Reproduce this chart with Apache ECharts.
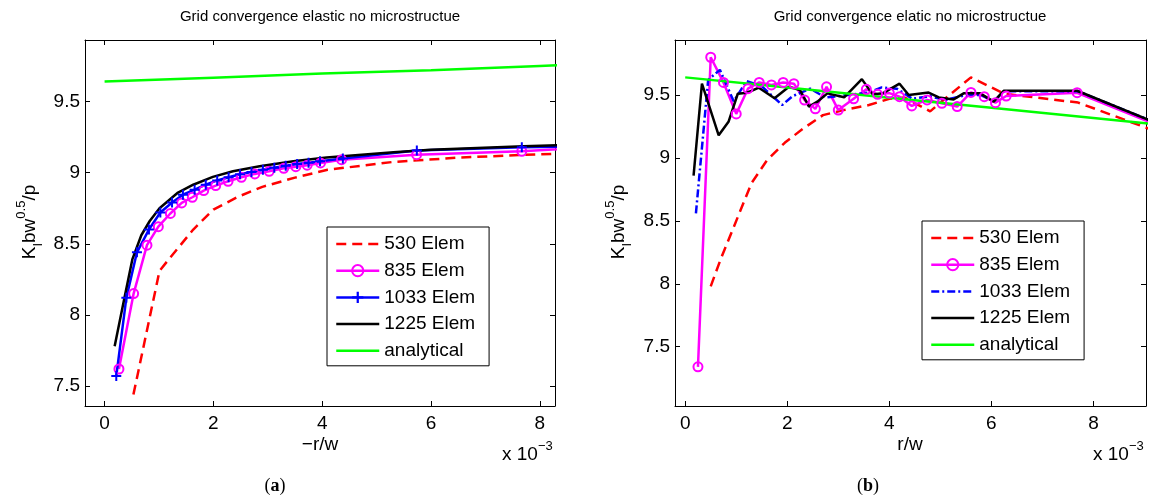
<!DOCTYPE html>
<html>
<head>
<meta charset="utf-8">
<script src="https://cdn.jsdelivr.net/npm/echarts@6/dist/echarts.min.js"></script>
<style>
  html, body { margin: 0; padding: 0; background: #fff; }
  #wrap { position: relative; width: 1153px; height: 499px; }
  .panel { position: absolute; left: 0; top: 0; width: 1153px; height: 499px; }
</style>
</head>
<body>
<div id="wrap">
  <div id="pa" class="panel"></div>
  <div id="pb" class="panel"></div>
</div>
<script>
// ---- shared labels / ticks ----
const seriesNames = ['530 Elem', '835 Elem', '1033 Elem', '1225 Elem', 'analytical'];
const xTicks = [0, 2, 4, 6, 8];
const yTicks = [7.5, 8, 8.5, 9, 9.5];
const titleA = 'Grid convergence elastic no microstructue';
const titleB = 'Grid convergence elatic no microstructue';

// ---- panel (a): K_I b w^0.5 / p against -r/w (x 10^-3) ----
const a530 = [[0.53,7.44],[1.01,8.31],[1.2,8.40],[1.63,8.60],[2.0,8.74],[2.45,8.83],[2.9,8.90],[3.5,8.965],[4.1,9.02],[5.3,9.075],[6.5,9.105],[7.7,9.125],[9.6,9.15]];
const a835 = [[0.264,7.62],[0.534,8.15],[0.779,8.49],[0.988,8.62],[1.209,8.713],[1.417,8.787],[1.613,8.827],[1.822,8.874],[2.043,8.909],[2.27,8.939],[2.515,8.967],[2.761,8.991],[3.025,9.009],[3.294,9.03],[3.515,9.042],[3.724,9.052],[3.969,9.068],[4.356,9.091],[5.736,9.126],[7.669,9.15],[9.6,9.19]];
const a1033 = [[0.215,7.57],[0.40,8.12],[0.595,8.44],[0.815,8.60],[1.025,8.72],[1.24,8.79],[1.44,8.845],[1.655,8.88],[1.86,8.915],[2.07,8.945],[2.28,8.968],[2.49,8.988],[2.70,9.005],[2.91,9.02],[3.12,9.035],[3.33,9.048],[3.54,9.06],[3.75,9.07],[3.96,9.08],[4.38,9.10],[5.74,9.155],[7.67,9.178],[9.6,9.19]];
const a1225 = [[0.185,7.78],[0.37,8.13],[0.51,8.39],[0.675,8.56],[0.83,8.66],[1.01,8.75],[1.35,8.86],[1.63,8.915],[1.99,8.97],[2.36,9.01],[2.85,9.045],[3.47,9.08],[4.08,9.107],[5.31,9.143],[6.0,9.16],[7.7,9.185],[9.6,9.21]];
const aExact = [[0,9.64],[2,9.667],[4,9.696],[6,9.72],[8,9.75],[9.6,9.77]];

// ---- panel (b): K_I b w^0.5 / p against r/w (x 10^-3) ----
const b530 = [[0.5,7.98],[0.7,8.2],[0.95,8.45],[1.3,8.8],[1.6,8.98],[1.95,9.12],[2.3,9.23],[2.7,9.34],[3.1,9.38],[3.6,9.42],[4.0,9.47],[4.3,9.48],[4.8,9.37],[5.15,9.49],[5.6,9.64],[6.25,9.51],[7.7,9.44],[9.1,9.23]];
const b835 = [[0.25,7.34],[0.5,9.8],[0.75,9.6],[1.0,9.35],[1.23,9.55],[1.45,9.6],[1.69,9.58],[1.92,9.6],[2.13,9.59],[2.34,9.46],[2.55,9.39],[2.77,9.565],[3.0,9.38],[3.3,9.47],[3.55,9.545],[3.77,9.505],[4.0,9.515],[4.2,9.487],[4.44,9.413],[4.74,9.461],[5.03,9.434],[5.33,9.408],[5.6,9.52],[5.86,9.487],[6.08,9.439],[6.29,9.492],[7.68,9.518],[9.1,9.285]];
const b1033 = [[0.21,8.56],[0.45,9.62],[0.68,9.7],[0.95,9.45],[1.2,9.61],[1.5,9.57],[1.9,9.42],[2.1,9.49],[2.45,9.55],[2.75,9.48],[3.2,9.5],[3.6,9.52],[3.85,9.56],[4.15,9.55],[4.45,9.47],[4.8,9.49],[5.1,9.46],[5.5,9.5],[5.8,9.5],[6.05,9.45],[6.25,9.53],[7.7,9.53],[9.1,9.30]];
const b1225 = [[0.164,8.86],[0.328,9.59],[0.656,9.18],[0.852,9.29],[1.03,9.51],[1.213,9.518],[1.443,9.558],[1.751,9.474],[2.033,9.566],[2.25,9.539],[2.426,9.408],[2.59,9.447],[2.787,9.513],[3.115,9.482],[3.462,9.626],[3.672,9.505],[3.869,9.513],[4.2,9.59],[4.38,9.5],[4.54,9.508],[4.77,9.519],[4.97,9.481],[5.26,9.465],[5.457,9.513],[5.78,9.513],[6.046,9.447],[6.24,9.534],[7.68,9.534],[9.1,9.30]];
const bExact = [[0,9.64],[2,9.56],[4,9.478],[6,9.398],[8,9.318],[9.1,9.273]];

const FONT = '"Liberation Sans", Arial, Helvetica, sans-serif';
const SERIF = '"Liberation Serif", "Times New Roman", serif';
const PLUS = 'path://M4,0 h2 v4 h4 v2 h-4 v4 h-2 v-4 h-4 v-2 h4 z';
const LW = 2.5;

function lineSeries(name, data, color, extra) {
  return Object.assign({
    name: name, type: 'line', data: data,
    symbol: 'none', clip: true, animation: false, silent: true,
    lineStyle: { color: color, width: LW },
    itemStyle: { color: color }
  }, extra || {});
}

function axisPair(kind, min, max, ticks) {
  const common = {
    type: 'value', min: min, max: max, scale: true,
    axisLine: { show: true, onZero: false, lineStyle: { color: '#000', width: 1 } },
    axisTick: { show: true, inside: true, length: 5, customValues: ticks, lineStyle: { color: '#000', width: 1 } },
    splitLine: { show: false }
  };
  const main = Object.assign({}, common, {
    position: kind === 'x' ? 'bottom' : 'left',
    axisLabel: { customValues: ticks, color: '#000', fontSize: 19, fontFamily: FONT, margin: kind === 'x' ? 8 : 5 }
  });
  const mirror = Object.assign({}, common, {
    position: kind === 'x' ? 'top' : 'right',
    axisLabel: { show: false }
  });
  return [main, mirror];
}

function textEl(x, y, text, size) {
  return {
    type: 'text', x: x, y: y, silent: true,
    style: {
      text: text, fill: '#000', fontSize: size, fontFamily: FONT,
      align: 'center', verticalAlign: 'middle'
    }
  };
}

function yNameEl(x, y) {
  return {
    type: 'text', x: x, y: y, rotation: Math.PI / 2, silent: true,
    style: {
      text: '{m|K}{sub|I}{m|bw}{sup|0.5}{m|/p}',
      align: 'center', verticalAlign: 'middle', fill: '#000',
      rich: {
        m: { fontSize: 19, fontFamily: FONT, lineHeight: 30, fill: '#000' },
        sub: { fontSize: 13, fontFamily: FONT, lineHeight: 15, verticalAlign: 'bottom', fill: '#000' },
        sup: { fontSize: 13, fontFamily: FONT, lineHeight: 15, verticalAlign: 'top', fill: '#000' }
      }
    }
  };
}

function scaleEl(x, y) {
  return {
    type: 'text', x: x, y: y, silent: true,
    style: {
      text: '{m|x 10}{sup|\u22123}', align: 'left', verticalAlign: 'middle', fill: '#000',
      rich: {
        m: { fontSize: 19, fontFamily: FONT, lineHeight: 30, fill: '#000' },
        sup: { fontSize: 13, fontFamily: FONT, lineHeight: 15, verticalAlign: 'top', fill: '#000' }
      }
    }
  };
}

function captionEl(x, y, letter) {
  return {
    type: 'text', x: x, y: y, silent: true,
    style: {
      text: '{p|(}{b|' + letter + '}{p|)}', align: 'center', verticalAlign: 'middle', fill: '#000',
      rich: {
        p: { fontSize: 18, fontFamily: SERIF, fill: '#000' },
        b: { fontSize: 18, fontFamily: SERIF, fontWeight: 'bold', fill: '#000' }
      }
    }
  };
}

function legendOf(left, top, items) {
  return {
    orient: 'vertical', left: left, top: top,
    padding: [7, 14, 5, 8], itemWidth: 43, itemHeight: 14, itemGap: 6.7,
    borderColor: '#000', borderWidth: 1, borderRadius: 0, backgroundColor: '#fff',
    selectedMode: false,
    lineStyle: { width: LW },
    textStyle: { fontSize: 19, fontFamily: FONT, color: '#000', lineHeight: 20 },
    data: items
  };
}

// ---------- panel (a) ----------
const gridA = { left: 85, top: 40, width: 470, height: 366 };
const [xa, xaTop] = axisPair('x', -0.36, 8.28, xTicks);
const [ya, yaRight] = axisPair('y', 7.36, 9.932, yTicks);

const optionA = {
  animation: false,
  grid: gridA,
  xAxis: [xa, xaTop],
  yAxis: [ya, yaRight],
  legend: legendOf(327, 227, [
    { name: seriesNames[0], itemStyle: { opacity: 0 } },
    { name: seriesNames[1] },
    { name: seriesNames[2] },
    { name: seriesNames[3], itemStyle: { opacity: 0 } },
    { name: seriesNames[4], itemStyle: { opacity: 0 } }
  ]),
  series: [
    lineSeries(seriesNames[0], a530, '#ff0000', { lineStyle: { color: '#ff0000', width: LW, type: [10, 6] } }),
    lineSeries(seriesNames[1], a835, '#ff00ff', {
      symbol: 'circle', symbolSize: 9, showSymbol: true,
      itemStyle: { color: 'rgba(255,0,255,0)', borderColor: '#ff00ff', borderWidth: 2 }
    }),
    lineSeries(seriesNames[2], a1033, '#0000ff', { symbol: PLUS, symbolSize: 10, showSymbol: true }),
    lineSeries(seriesNames[3], a1225, '#000000'),
    lineSeries(seriesNames[4], aExact, '#00ff00')
  ],
  graphic: { elements: [
    textEl(320, 17, titleA, 15),
    yNameEl(30, 222),
    textEl(320, 445, '\u2212r/w', 19),
    scaleEl(502, 455),
    captionEl(275, 486, 'a')
  ] }
};

// ---------- panel (b) ----------
const gridB = { left: 675, top: 40, width: 471, height: 366 };
const [xb, xbTop] = axisPair('x', -0.2, 9.03, xTicks);
const [yb, ybRight] = axisPair('y', 7.029, 9.937, yTicks);

const optionB = {
  animation: false,
  grid: gridB,
  xAxis: [xb, xbTop],
  yAxis: [yb, ybRight],
  legend: legendOf(922, 221, [
    { name: seriesNames[0], itemStyle: { opacity: 0 } },
    { name: seriesNames[1] },
    { name: seriesNames[2], itemStyle: { opacity: 0 } },
    { name: seriesNames[3], itemStyle: { opacity: 0 } },
    { name: seriesNames[4], itemStyle: { opacity: 0 } }
  ]),
  series: [
    lineSeries(seriesNames[0], b530, '#ff0000', { lineStyle: { color: '#ff0000', width: LW, type: [10, 6] } }),
    lineSeries(seriesNames[1], b835, '#ff00ff', {
      symbol: 'circle', symbolSize: 9, showSymbol: true,
      itemStyle: { color: 'rgba(255,0,255,0)', borderColor: '#ff00ff', borderWidth: 2 }
    }),
    lineSeries(seriesNames[2], b1033, '#0000ff', { lineStyle: { color: '#0000ff', width: LW, type: [8, 3, 2, 3] } }),
    lineSeries(seriesNames[3], b1225, '#000000'),
    lineSeries(seriesNames[4], bExact, '#00ff00')
  ],
  graphic: { elements: [
    textEl(910, 17, titleB, 15),
    yNameEl(619, 222),
    textEl(910, 445, 'r/w', 19),
    scaleEl(1093, 455),
    captionEl(868, 486, 'b')
  ] }
};

echarts.init(document.getElementById('pa'), null, { renderer: 'canvas' }).setOption(optionA);
echarts.init(document.getElementById('pb'), null, { renderer: 'canvas' }).setOption(optionB);
</script>
</body>
</html>
